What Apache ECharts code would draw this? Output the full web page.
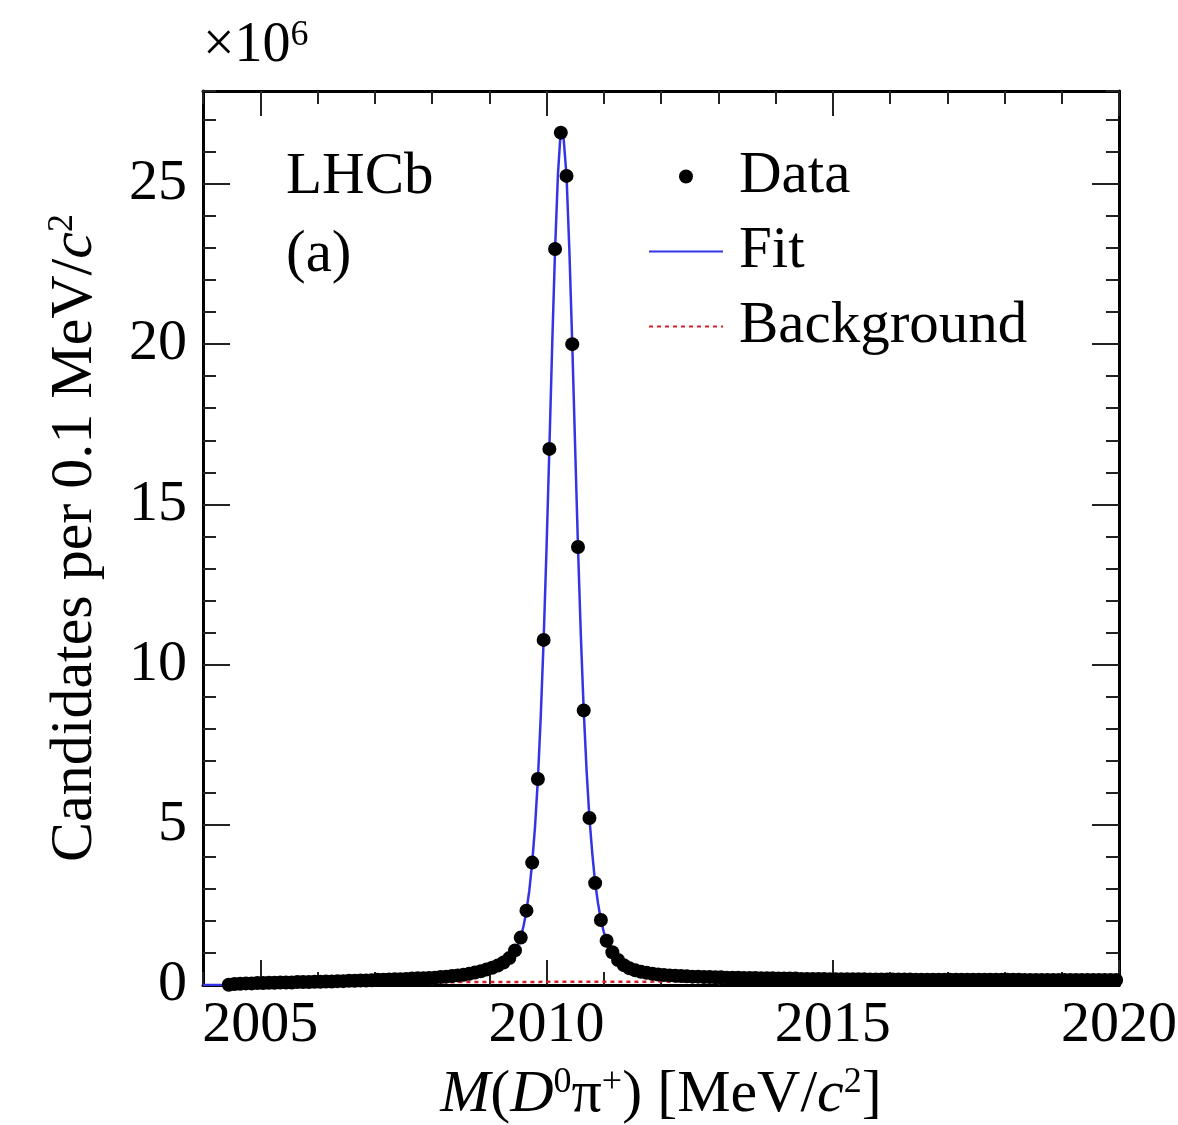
<!DOCTYPE html>
<html><head><meta charset="utf-8">
<script src="https://cdn.jsdelivr.net/npm/echarts@6/dist/echarts.min.js"></script>
<style>html,body{margin:0;padding:0;background:#fff}#c{width:1178px;height:1125px}</style>
</head><body><div id="c"></div>
<script>
// Histogram binning (MeV/c^2)
const binStart = 2004.4;
const binWidth = 0.1;
// Candidates per 0.1 MeV/c^2, in units of 10^6 (bin centres 2004.45 ... 2019.95)
const counts = [
  0.01,0.03,0.04,0.05,0.05,0.06,0.06,0.07,0.07,0.08,
  0.08,0.08,0.09,0.09,0.09,0.10,0.10,0.11,0.11,0.12,
  0.12,0.13,0.13,0.14,0.14,0.15,0.16,0.16,0.17,0.18,
  0.18,0.19,0.20,0.21,0.21,0.22,0.23,0.25,0.26,0.28,
  0.30,0.32,0.35,0.39,0.43,0.48,0.54,0.61,0.70,0.84,
  1.08,
  1.48,2.32,3.82,6.43,10.77,16.73,22.97,26.60,25.25,20.00,13.67,8.57,5.21,3.18,2.03,1.38,
  1.02,0.78,0.62,0.52,0.46,0.41,0.38,0.35,0.33,0.31,
  0.30,0.29,0.28,0.27,0.26,0.26,0.25,0.25,0.24,0.24,
  0.23,0.23,0.23,0.22,0.22,0.22,0.21,0.21,0.21,0.20,
  0.20,0.20,0.20,0.19,0.19,0.19,0.19,0.19,0.18,0.18,
  0.18,0.18,0.18,0.18,0.178,0.175,0.172,0.17,0.17,0.17,
  0.17,0.169,0.168,0.167,0.166,0.165,0.165,0.164,0.164,0.163,
  0.163,0.162,0.162,0.162,0.161,0.161,0.161,0.160,0.160,0.160,
  0.160,0.160,0.159,0.159,0.159,0.159,0.158,0.158,0.158,0.158,
  0.158,0.157,0.157,0.157,0.157,0.157,0.156,0.156,0.156
];
// Fit curve samples
const fitX = [2004.0,2004.41,2004.5,2004.8,2005.2,2005.6,2006.0,2006.5,2007.0,2007.5,2008.0,2008.3,2008.6,2008.8,2009.0,2009.2,2009.3,2009.4,2009.45,
  2009.5,2009.55,2009.6,2009.65,2009.7,2009.75,2009.8,2009.85,2009.9,2009.95,2010.0,2010.05,2010.1,2010.15,2010.2,2010.25,2010.3,2010.35,2010.4,2010.45,
  2010.5,2010.55,2010.6,2010.65,2010.7,2010.75,2010.8,2010.85,2010.9,2010.95,2011.0,2011.05,2011.1,2011.15,2011.2,2011.3,2011.4,2011.5,2011.6,2011.8,
  2012.0,2012.5,2013.0,2013.5,2014.0,2015.0,2016.0,2017.0,2018.0,2019.0,2020.0];
const fitY = [0,0,0.02,0.05,0.07,0.085,0.10,0.12,0.15,0.185,0.225,0.27,0.33,0.40,0.51,0.655,0.77,0.94,1.06,
  1.25,1.48,1.85,2.32,2.95,3.82,4.95,6.43,8.40,10.77,13.60,16.73,20.00,22.97,25.30,26.70,26.40,25.25,22.90,20.00,
  16.80,13.67,10.90,8.57,6.70,5.21,4.10,3.18,2.55,2.03,1.66,1.38,1.18,1.02,0.89,0.70,0.57,0.49,0.43,0.365,
  0.32,0.27,0.24,0.22,0.205,0.18,0.168,0.162,0.16,0.158,0.156];
// Background curve samples
const bgX = [2004.41,2004.5,2004.7,2005.0,2005.5,2006.0,2007.0,2008.0,2009.0,2010.0,2011.0,2012.0,2014.0,2016.0,2018.0,2020.0];
const bgY = [0,0.015,0.03,0.045,0.058,0.067,0.079,0.087,0.093,0.098,0.102,0.106,0.112,0.117,0.121,0.125];
// Axis ticks
const xTickLabels = [2005, 2010, 2015, 2020];
const yTickLabels = [0, 5, 10, 15, 20, 25];

const FONT = "'Liberation Serif','DejaVu Serif',serif";
const FS = 59;
const dataPts = counts.map((v, i) => [+(binStart + binWidth * (i + 0.5)).toFixed(2), v]);
const fitPts = fitX.map((x, i) => [x, fitY[i]]);
const bgPts = bgX.map((x, i) => [x, bgY[i]]);

const tickLine = { color: '#222', width: 2 };
function xAx(pos, major) {
  const a = {
    type: 'value', position: pos, min: 2004, max: 2020,
    axisLine: { show: major, onZero: false, lineStyle: { color: '#000', width: 3 } },
    splitLine: { show: false },
    axisTick: { show: true, inside: true, length: major ? 25 : 13, lineStyle: tickLine },
    axisLabel: { show: false }
  };
  if (major) {
    a.axisTick.customValues = xTickLabels;
    a.axisLabel = pos === 'bottom' ? { show: true, customValues: xTickLabels, fontSize: 58, fontFamily: FONT, color: '#000', margin: 12, formatter: v => String(v) } : { show: false };
  } else {
    a.interval = 1;
  }
  return a;
}
function yAx(pos, major) {
  const a = {
    type: 'value', position: pos, min: 0, max: 27.9,
    axisLine: { show: major, onZero: false, lineStyle: { color: '#000', width: 3 } },
    splitLine: { show: false },
    axisTick: { show: true, inside: true, length: major ? 27 : 13, lineStyle: tickLine },
    axisLabel: { show: false }
  };
  if (major) {
    a.axisTick.customValues = yTickLabels;
    if (pos === 'left') a.axisLabel = { show: true, customValues: yTickLabels, fontSize: 58, fontFamily: FONT, color: '#000', margin: 16, formatter: v => String(v) };
  } else {
    a.interval = 1;
  }
  return a;
}
const richName = {
  i: { fontSize: FS + 1, fontFamily: FONT, fontStyle: 'italic', color: '#000' },
  sup: { fontSize: 36, fontFamily: FONT, color: '#000', verticalAlign: 'top', lineHeight: FS }
};

const xAxes = [xAx('bottom', true), xAx('bottom', false), xAx('top', true), xAx('top', false)];
xAxes[0].name = '{i|M}({i|D}{sup|0}\u03c0{sup|+}) [MeV/{i|c}{sup|2}]';
xAxes[0].nameLocation = 'middle';
xAxes[0].nameGap = 80;
xAxes[0].nameTextStyle = { fontSize: FS + 1, fontFamily: FONT, color: '#000', rich: richName };
const yAxes = [yAx('left', true), yAx('left', false), yAx('right', true), yAx('right', false)];
yAxes[0].name = 'Candidates per 0.1 MeV/{i|c}{sup|2}';
yAxes[0].nameLocation = 'middle';
yAxes[0].nameRotate = 90;
yAxes[0].nameGap = 98;
yAxes[0].nameTextStyle = { fontSize: FS + 1, fontFamily: FONT, color: '#000', rich: richName };

const chart = echarts.init(document.getElementById('c'), null, { renderer: 'canvas' });
chart.setOption({
  animation: false,
  backgroundColor: '#fff',
  grid: { left: 203, right: 59, top: 91, bottom: 140, containLabel: false, outerBoundsMode: 'none' },
  xAxis: xAxes,
  yAxis: yAxes,
  legend: {
    orient: 'vertical', left: 648, top: 147, padding: 0,
    itemWidth: 74, itemHeight: 14, itemGap: 16, symbolKeepAspect: true,
    textStyle: { fontSize: FS, fontFamily: FONT, color: '#000', lineHeight: FS, padding: [0, 0, 0, 11] },
    data: [
      { name: 'Data', icon: 'circle' },
      { name: 'Fit', itemStyle: { opacity: 0 } },
      { name: 'Background', itemStyle: { opacity: 0 } }
    ]
  },
  graphic: [
    { type: 'text', left: 286, top: 148, style: { text: 'LHCb', font: FS + 'px ' + FONT, fill: '#000' } },
    { type: 'text', left: 286, top: 226, style: { text: '(a)', font: FS + 'px ' + FONT, fill: '#000' } },
    { type: 'text', left: 203, top: 18, style: {
      text: '\u00d710{s|6}', font: '56px ' + FONT, fill: '#000',
      rich: { s: { fontSize: 36, fontFamily: FONT, fill: '#000', verticalAlign: 'top', lineHeight: 56 } }
    } }
  ],
  series: [
    { name: 'Background', type: 'line', data: bgPts, showSymbol: false, symbol: 'none', z: 2,
      lineStyle: { color: '#d8202c', width: 2.5, type: [4, 4] }, itemStyle: { color: '#d8202c' } },
    { name: 'Fit', type: 'line', data: fitPts, showSymbol: false, symbol: 'none', z: 3,
      lineStyle: { color: '#3434e6', width: 2.5 }, itemStyle: { color: '#3434e6' } },
    { name: 'Data', type: 'scatter', data: dataPts, symbol: 'circle', symbolSize: 14, z: 4,
      itemStyle: { color: '#000', opacity: 1 } }
  ]
});
</script></body></html>
